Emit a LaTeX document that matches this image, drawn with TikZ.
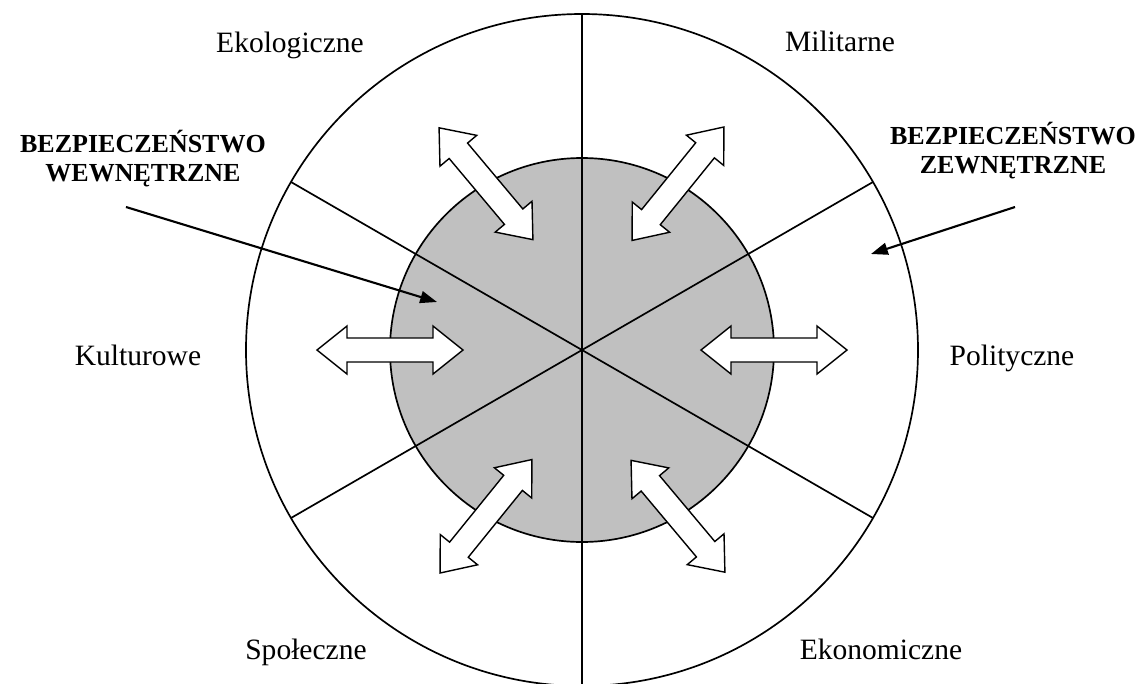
\documentclass[tikz,border=0pt]{standalone}
\usepackage{fontspec}
\setmainfont{Liberation Serif}[BoldFont={Liberation Serif Bold}]
\usepackage{tikz}
\usetikzlibrary{arrows.meta,positioning}
\definecolor{silver}{RGB}{192,192,192}

\begin{document}
\begin{tikzpicture}[line width=1.2pt,
    hollow/.style={draw, fill=white, line width=1pt},
    sector/.style={anchor=base, font=\fontsize{21}{25}\selectfont},
    area/.style={font=\fontsize{18.5}{20.6}\selectfont\bfseries, align=center}]
      \useasboundingbox (-14.55,-8.325) rectangle (14.075,8.75);

      \node[draw, circle, minimum size=16.8cm, inner sep=0pt](outer) at (0,0) {};
      \node[draw, circle, fill=silver, minimum size=9.6cm, inner sep=0pt](inner) at (0,0) {};
      \path
      (90:8.4) edge (270:8.4)
      (30:8.4) edge (210:8.4)
      (150:8.4) edge (330:8.4);

      % double arrows on the inner circle
      \begin{scope}[shift={(0:4.8)}, rotate=0]
        \draw[hollow] (-1.825,0) -- (-1.075,0.6) -- (-1.075,0.3) -- (1.075,0.3) -- (1.075,0.6) -- (1.825,0)
        -- (1.075,-0.6) -- (1.075,-0.3) -- (-1.075,-0.3) -- (-1.075,-0.6) -- cycle;
      \end{scope}
      \begin{scope}[shift={(60:4.8)}, rotate=51]
        \draw[hollow] (-1.825,0) -- (-1.075,0.6) -- (-1.075,0.3) -- (1.075,0.3) -- (1.075,0.6) -- (1.825,0)
        -- (1.075,-0.6) -- (1.075,-0.3) -- (-1.075,-0.3) -- (-1.075,-0.6) -- cycle;
      \end{scope}
      \begin{scope}[shift={(120:4.8)}, rotate=130]
        \draw[hollow] (-1.825,0) -- (-1.075,0.6) -- (-1.075,0.3) -- (1.075,0.3) -- (1.075,0.6) -- (1.825,0)
        -- (1.075,-0.6) -- (1.075,-0.3) -- (-1.075,-0.3) -- (-1.075,-0.6) -- cycle;
      \end{scope}
      \begin{scope}[shift={(180:4.8)}, rotate=0]
        \draw[hollow] (-1.825,0) -- (-1.075,0.6) -- (-1.075,0.3) -- (1.075,0.3) -- (1.075,0.6) -- (1.825,0)
        -- (1.075,-0.6) -- (1.075,-0.3) -- (-1.075,-0.3) -- (-1.075,-0.6) -- cycle;
      \end{scope}
      \begin{scope}[shift={(240:4.8)}, rotate=51]
        \draw[hollow] (-1.825,0) -- (-1.075,0.6) -- (-1.075,0.3) -- (1.075,0.3) -- (1.075,0.6) -- (1.825,0)
        -- (1.075,-0.6) -- (1.075,-0.3) -- (-1.075,-0.3) -- (-1.075,-0.6) -- cycle;
      \end{scope}
      \begin{scope}[shift={(300:4.8)}, rotate=130]
        \draw[hollow] (-1.825,0) -- (-1.075,0.6) -- (-1.075,0.3) -- (1.075,0.3) -- (1.075,0.6) -- (1.825,0)
        -- (1.075,-0.6) -- (1.075,-0.3) -- (-1.075,-0.3) -- (-1.075,-0.6) -- cycle;
      \end{scope}

      % sector names
      \node[sector](eko) at (-7.3,7.45) {Ekologiczne};
      \node[sector](mil) at (6.45,7.475) {Militarne};
      \node[sector](kul) at (-11.1,-0.375) {Kulturowe};
      \node[sector](pol) at (10.75,-0.375) {Polityczne};
      \node[sector](spo) at (-6.9,-7.725) {Społeczne};
      \node[sector](ekn) at (7.475,-7.725) {Ekonomiczne};

      % internal / external
      \node[area](wew) at (-10.975,4.775) {BEZPIECZEŃSTWO\\WEWNĘTRZNE};
      \node[area](zew) at (10.775,4.975) {BEZPIECZEŃSTWO\\ZEWNĘTRZNE};
      \coordinate (wewfrom) at (-11.4,3.575);
      \coordinate (wewto) at (-3.625,1.2);
      \coordinate (zewfrom) at (10.825,3.575);
      \coordinate (zewto) at (7.225,2.4);
      \path[-{Triangle[length=0.42cm, width=0.3cm]}, line width=1.5pt]
      (wewfrom) edge (wewto)
      (zewfrom) edge (zewto);
    \end{tikzpicture}
\end{document}
